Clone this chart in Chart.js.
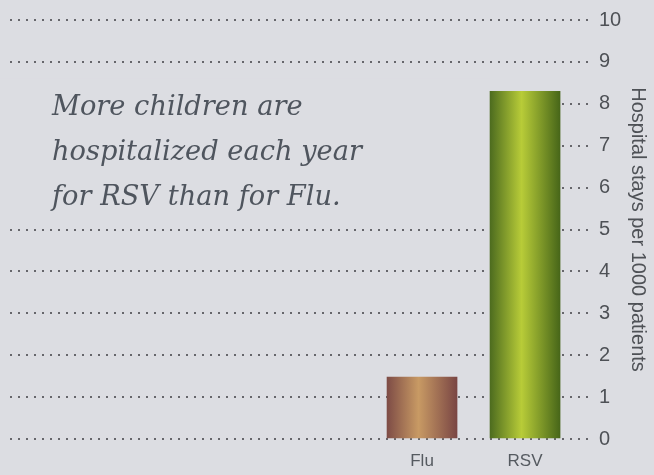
<!DOCTYPE html>
<html>
<head>
<meta charset="utf-8">
<script src="https://cdn.jsdelivr.net/npm/chart.js@4/dist/chart.umd.min.js"></script>
<style>
  html, body { margin: 0; padding: 0; background: #dcdde2; }
  #wrap { width: 654px; height: 475px; position: relative; }
</style>
</head>
<body>
<div id="wrap"><canvas id="chart"></canvas></div>
<script>
// data
const categories = ['Flu', 'RSV'];
const stays = [1.48, 8.3];
const yTicks = [0, 1, 2, 3, 4, 5, 6, 7, 8, 9, 10];
const headline = ['More children are', 'hospitalized each year', 'for RSV than for Flu.'];
const axisTitle = 'Hospital stays per 1000 patients';

// styling
const BG = '#dcdde2';
const barShades = [
  ['#7e4c46', '#c89a64', '#7a4644'],   // Flu: brown edges, tan middle
  ['#4d6c1f', '#b8cc38', '#476619']    // RSV: dark green edges, yellow-green middle
];
const BAR_W = 70;

function barFill(ctx) {
  const chart = ctx.chart;
  const shades = barShades[ctx.dataIndex] || barShades[0];
  if (!chart.chartArea || !chart.scales.x) return shades[1];
  const cx = chart.scales.x.getPixelForValue(ctx.dataIndex);
  const g = chart.ctx.createLinearGradient(cx - BAR_W / 2, 0, cx + BAR_W / 2, 0);
  g.addColorStop(0, shades[0]);
  g.addColorStop(0.45, shades[1]);
  g.addColorStop(1, shades[2]);
  return g;
}

// hides the gridlines behind the headline and writes it
const headlinePlugin = {
  id: 'headline',
  beforeDatasetsDraw(chart) {
    const { ctx, scales } = chart;
    const top = scales.y.getPixelForValue(8.6);
    const bottom = scales.y.getPixelForValue(5.5);
    const right = scales.x.getPixelForValue(1) - BAR_W / 2;
    ctx.save();
    ctx.fillStyle = BG;
    ctx.fillRect(0, top, right, bottom - top);

    let size = 26;
    ctx.font = `italic ${size}px "DejaVu Serif"`;
    const w = ctx.measureText(headline[1]).width;
    size = size * 310 / w;
    ctx.font = `italic ${size}px "DejaVu Serif"`;
    ctx.fillStyle = '#4f555e';
    ctx.textBaseline = 'alphabetic';
    headline.forEach((line, i) => ctx.fillText(line, 52, 115 + i * 45));
    ctx.restore();
  }
};

new Chart(document.getElementById('chart'), {
  type: 'bar',
  data: {
    datasets: [{
      data: categories.map((c, i) => ({ x: i, y: stays[i] })),
      backgroundColor: barFill,
      borderWidth: 0,
      barThickness: BAR_W
    }]
  },
  options: {
    responsive: true,
    maintainAspectRatio: false,
    animation: false,
    layout: { autoPadding: false, padding: { left: 10, top: 20, right: 0, bottom: 0 } },
    plugins: { legend: { display: false }, tooltip: { enabled: false } },
    scales: {
      x: {
        type: 'linear',
        offset: false,
        min: -4.0,
        max: 1.65,
        grid: { display: false, drawTicks: false, offset: false },
        border: { display: false },
        afterBuildTicks: (axis) => { axis.ticks = categories.map((c, i) => ({ value: i })); },
        afterFit: (axis) => { axis.height = 36; },
        ticks: {
          autoSkip: false,
          maxRotation: 0,
          padding: 12,
          color: '#555a60',
          font: { family: 'Liberation Sans', size: 17 },
          callback: (v) => categories[v] ?? ''
        }
      },
      y: {
        position: 'right',
        min: 0,
        max: 10,
        afterBuildTicks: (axis) => { axis.ticks = yTicks.map(v => ({ value: v })); },
        afterFit: (axis) => { axis.width = 62; },
        grid: { color: '#66666b', lineWidth: 2, drawTicks: false },
        border: { display: false, dash: [2, 6] },
        ticks: {
          padding: 7,
          color: '#4e5156',
          font: { family: 'Liberation Sans', size: 20 }
        },
        title: {
          display: true,
          text: axisTitle,
          color: '#4e5156',
          font: { family: 'Liberation Sans', size: 20 },
          padding: { top: 4, bottom: 0 }
        }
      }
    }
  },
  plugins: [headlinePlugin]
});
</script>
</body>
</html>
